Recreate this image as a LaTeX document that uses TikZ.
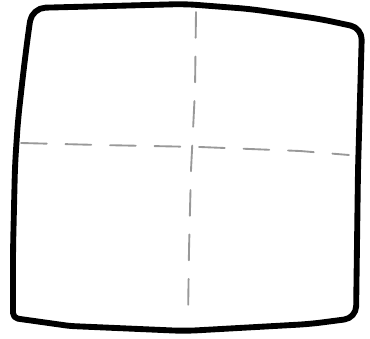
\documentclass[tikz,border=0pt]{standalone}
\usepackage{xcolor}

\begin{document}
\begin{tikzpicture}[
  x=0.03cm, y=-0.03cm,
  outline/.style={draw=black, line width=5pt, line join=round, line cap=round},
  guide/.style={draw=black!40, line width=1.6pt, line cap=round, dash pattern=on 22pt off 16pt},
]
\useasboundingbox (0,0) rectangle (370,338);
% corners of the hand-drawn frame
\coordinate (tl) at (32,8);
\coordinate (tr) at (362,28);
\coordinate (br) at (356,318);
\coordinate (bl) at (13,318);
% frame
\draw[outline] (110,6) [rounded corners=3.5mm] -- (185,4) -- (250,9) -- (320,19) -- (tr)
  -- (358,170) -- (br) -- (310,324) -- (185,331) [rounded corners=1.5mm] -- (70,326) -- (bl)
  [rounded corners=4mm] -- (13,250) -- (15,165) -- (18,120) -- (23,75) -- (28,35) -- (tl) -- cycle;
% dashed guides
\draw[guide] (21,143) -- (100,145) -- (200,147) -- (300,151) -- (349,155);
\draw[guide] (196,12) -- (195,90) -- (191,170) -- (189,250) -- (188,318);
\end{tikzpicture}
\end{document}
